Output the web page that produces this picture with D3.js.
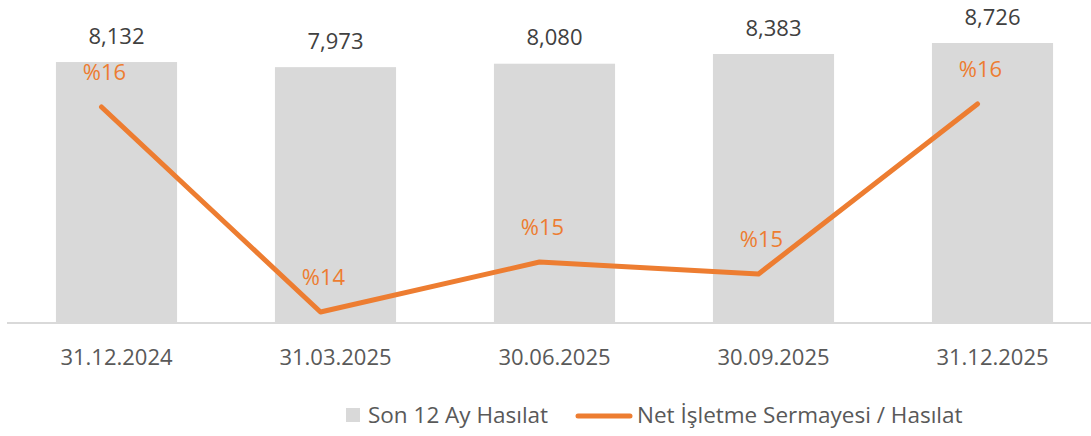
<!DOCTYPE html>
<html>
<head>
<meta charset="utf-8">
<script src="https://cdn.jsdelivr.net/npm/d3@7"></script>
<style>
  html, body { margin: 0; padding: 0; background: #fff; }
  svg { display: block; font-family: "Open Sans", "Noto Sans", sans-serif; }
</style>
</head>
<body>
<svg id="chart" width="1091" height="436"></svg>
<script>
const categories = ["31.12.2024", "31.03.2025", "30.06.2025", "30.09.2025", "31.12.2025"];
const revenue = [8132, 7973, 8080, 8383, 8726];
const nwcRatio = [16.25, 14.2, 14.7, 14.58, 16.28];
const legendLabels = ["Son 12 Ay Hasılat", "Net İşletme Sermayesi / Hasılat"];

const BAR = "#d9d9d9", ORANGE = "#ED7D31", DARK = "#404040", MID = "#595959";
const svg = d3.select("#chart");

const x = d3.scaleBand().domain(categories).range([7, 1102])
  .paddingInner(0.447).paddingOuter(0.2235);
const y = d3.scaleLinear().domain([0, 9754]).range([323, 10]);
const y2 = d3.scaleLinear().domain([14.09, 17.22]).range([323, 10]);
const lineShift = -15;
const px = d => x(d) + x.bandwidth() / 2 + lineShift;

// bars
svg.append("g").selectAll("rect").data(revenue).join("rect")
  .attr("x", (d, i) => x(categories[i]))
  .attr("y", d => y(d))
  .attr("width", x.bandwidth())
  .attr("height", d => y(0) - y(d))
  .attr("fill", BAR);

// x axis line
const xAxis = d3.axisBottom(x).tickSize(0).tickPadding(26);
const gx = svg.append("g").attr("transform", `translate(0,${y(0)})`).call(xAxis);
gx.select(".domain").attr("stroke", BAR).attr("stroke-width", 2)
  .attr("d", `M7,0H1091`);
gx.selectAll("text").attr("fill", MID).attr("font-size", 22)
  .attr("font-family", "'Open Sans', sans-serif");

// bar value labels
svg.append("g").selectAll("text").data(revenue).join("text")
  .attr("x", (d, i) => x(categories[i]) + x.bandwidth() / 2)
  .attr("y", d => y(d) - 26)
  .attr("dy", "0.35em")
  .attr("text-anchor", "middle")
  .attr("font-size", 22)
  .attr("fill", DARK)
  .text(d => d3.format(",")(d));

// line
const line = d3.line().x((d, i) => px(categories[i])).y(d => y2(d));
svg.append("path").datum(nwcRatio)
  .attr("d", line)
  .attr("fill", "none")
  .attr("stroke", ORANGE)
  .attr("stroke-width", 5)
  .attr("stroke-linejoin", "round")
  .attr("stroke-linecap", "round");

// line labels
svg.append("g").selectAll("text").data(nwcRatio).join("text")
  .attr("x", (d, i) => px(categories[i]) + 3)
  .attr("y", d => y2(d) - 35)
  .attr("dy", "0.35em")
  .attr("text-anchor", "middle")
  .attr("font-size", 22)
  .attr("fill", ORANGE)
  .text(d => "%" + Math.round(d));

// legend
const lg = svg.append("g").attr("font-size", 22.5).attr("fill", MID);
lg.append("rect").attr("x", 346).attr("y", 408).attr("width", 14).attr("height", 14).attr("fill", BAR);
lg.append("text").attr("x", 368).attr("y", 415).attr("dy", "0.35em").text(legendLabels[0]);
lg.append("line").attr("x1", 578).attr("x2", 630).attr("y1", 416).attr("y2", 416)
  .attr("stroke", ORANGE).attr("stroke-width", 5).attr("stroke-linecap", "round");
lg.append("text").attr("x", 637).attr("y", 415).attr("dy", "0.35em").text(legendLabels[1]);
</script>
</body>
</html>
